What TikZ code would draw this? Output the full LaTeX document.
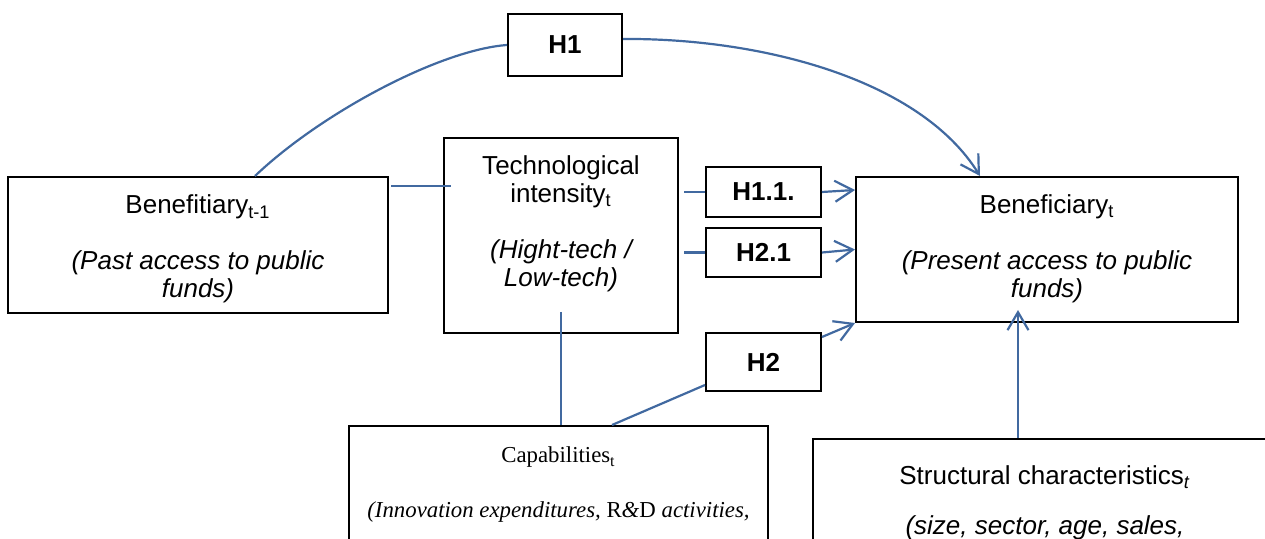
\documentclass[tikz,border=0pt]{standalone}
\usepackage{fontspec}
\setmainfont{Liberation Sans}
\newfontfamily\capfont{Liberation Serif}
\usetikzlibrary{arrows.meta,fit}
\definecolor{linkblue}{RGB}{65,105,160}
\tikzset{
  box/.style={draw=black, line width=1pt, inner sep=0pt, rectangle},
  hbox/.style={box, font=\fontsize{13pt}{14pt}\selectfont\bfseries, minimum width=57.5pt},
  txt/.style={align=center, anchor=base, inner sep=0pt, font=\fontsize{13pt}{14.2pt}\selectfont},
  note/.style={txt, font=\fontsize{13pt}{14.2pt}\selectfont\itshape},
  captxt/.style={align=center, anchor=base, inner sep=0pt, font=\capfont\fontsize{11.4pt}{13pt}\selectfont},
  link/.style={draw=linkblue, line width=1.1pt},
  arrowlink/.style={link, -{Straight Barb[length=9pt,width=10.5pt,line width=1.1pt]}},
}
\begin{document}
\begin{tikzpicture}[x=0.5pt,y=-0.5pt]
\useasboundingbox (0,0) rectangle (1265,539);
\clip (0,0) rectangle (1265,539);

% variable boxes
\node[box, fit={(8,177) (388,313)}] (past) {};
\node[box, fit={(444,138) (678,333)}] (tech) {};
\node[box, fit={(856,177) (1238,322)}] (ben) {};
\node[box, fit={(349,426) (768,600)}] (cap) {};
\node[box, fit={(813,439) (1277,600)}] (str) {};

% hypothesis boxes
\node[hbox, minimum width=57pt, minimum height=31pt] (h1) at (565,45) {H1};
\node[hbox, minimum height=25pt] (h11) at (763.5,192) {H1.1.};
\node[hbox, minimum height=24.5pt] (h21) at (763.5,252.5) {H2.1};
\node[hbox, minimum height=29pt] (h2) at (763.5,362) {H2};

% box texts (multi-line nodes sit on the baseline of their last line)
\node[txt] (pastTitle) at (198,214) {Benefitiary\textsubscript{t-1}};
\node[note] (pastNote) at (198,298) {(Past access to public\\funds)};
\node[txt] (techTitle) at (561,203) {Technological\\intensity\textsubscript{t}};
\node[note] (techNote) at (561,287) {(Hight-tech /\\Low-tech)};
\node[txt] (benTitle) at (1047,214) {Beneficiary\textsubscript{t}};
\node[note] (benNote) at (1047,298) {(Present access to public\\funds)};
\node[captxt] (capTitle) at (558.5,463) {Capabilities\textsubscript{t}};
\node[captxt] (capNote) at (558.5,518) {\textit{(Innovation expenditures, }R\textit{\&}D\textit{ activities,}};
\node[txt] (strTitle) at (1045,485) {Structural characteristics\textsubscript{\textit{t}}};
\node[note] (strNote) at (1045,535) {(size, sector, age, sales,};

% connectors
\draw[link] ([xshift=28.5pt]past.north) .. controls +(65,-62) and +(-68,5) .. (h1.west);
\draw[arrowlink] ([yshift=3pt]h1.east) .. controls +(138,-1) and +(-60,-97) .. ([xshift=-33.5pt]ben.north);
\draw[link] ([xshift=1pt,yshift=29.5pt]past.east) -- ([xshift=4pt,yshift=24.75pt]tech.west);
\draw[link] ([xshift=2.5pt,yshift=21.75pt]tech.east) -- (h11.west);
\draw[link] ([xshift=2.5pt,yshift=-8.5pt]tech.east) -- (h21.west);
\draw[arrowlink] (h11.east) -- ([yshift=29.75pt]ben.west);
\draw[arrowlink] (h21.east) -- (ben.west);
\draw[arrowlink] ([yshift=12.5pt]h2.east) -- (ben.south west);
\draw[link] ([yshift=11pt]tech.south) -- (tech.south |- cap.north);
\draw[link] ([xshift=26.75pt]cap.north) -- ([yshift=-11.5pt]h2.west);
\draw[arrowlink] ([xshift=-13.5pt]str.north) -- ([xshift=-14.5pt,yshift=6.5pt]ben.south);
\end{tikzpicture}
\end{document}
